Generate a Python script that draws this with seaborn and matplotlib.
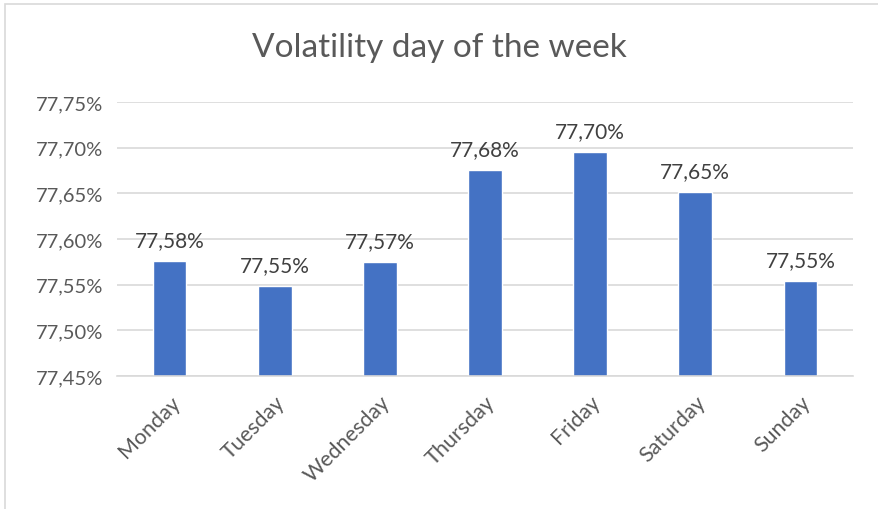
import matplotlib
matplotlib.use('Agg')
import matplotlib.pyplot as plt
import seaborn as sns
from matplotlib.patches import Rectangle
from matplotlib.ticker import FuncFormatter

days = ["Monday", "Tuesday", "Wednesday", "Thursday", "Friday", "Saturday", "Sunday"]
volatility = [77.576, 77.5485, 77.5748, 77.6756, 77.6953, 77.6515, 77.554]
y_ticks = [77.45, 77.50, 77.55, 77.60, 77.65, 77.70, 77.75]

sns.set_theme(style="white")
plt.rcParams['font.family'] = ['Lato', 'DejaVu Sans']

fig = plt.figure(figsize=(8.79, 5.10), dpi=100)
ax = fig.add_axes([117/879, 1-377/510, (853-117)/879, (377-103)/510])

# chart border (cropped at right and bottom like the screenshot)
fig.patches.append(Rectangle((5/879, -0.1), 1.2, 1-5/510+0.1, transform=fig.transFigure,
                             fill=False, edgecolor='#D9D9D9', linewidth=1.2))

sns.barplot(x=days, y=volatility, color='#4472C4', width=0.32, saturation=1, ax=ax)

ax.set_ylim(77.45, 77.75)
ax.set_yticks(y_ticks)
ax.yaxis.set_major_formatter(FuncFormatter(lambda v, p: f"{v:.2f}%".replace('.', ',')))
ax.grid(axis='y', color='#D9D9D9', linewidth=1.2)
ax.set_axisbelow(True)
for s in ['left', 'right', 'top']:
    ax.spines[s].set_visible(False)
ax.spines['bottom'].set_color('#D9D9D9')
ax.spines['bottom'].set_linewidth(1.2)
ax.set_xlabel('')
ax.set_ylabel('')
ax.tick_params(axis='y', labelsize=14.5, colors='#595959', length=0, pad=10)
ax.tick_params(axis='x', labelsize=15.5, colors='#595959', length=0, pad=11)
plt.setp(ax.get_xticklabels(), rotation=45, ha='right', rotation_mode='anchor')

ax.bar_label(ax.containers[0], labels=[f"{v:.2f}%".replace('.', ',') for v in volatility],
             padding=8, fontsize=15, color='#404040')

fig.text(0.5, 1-48/510, "Volatility day of the week", ha='center', va='center',
         fontsize=24, color='#595959')

fig.savefig('out.png', dpi=100)
